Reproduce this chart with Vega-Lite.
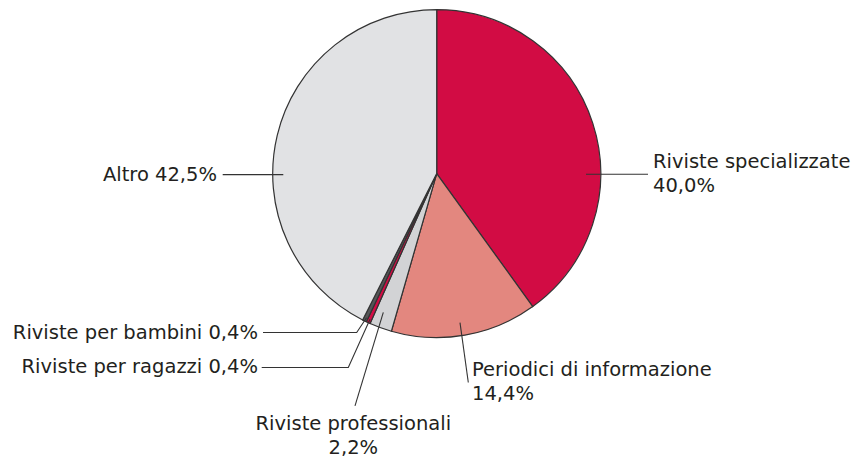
{
  "$schema": "https://vega.github.io/schema/vega-lite/v6.json",
  "width": 854,
  "height": 458,
  "autosize": {"type": "fit", "contains": "padding"},
  "padding": 0,
  "background": "white",
  "config": {"view": {"stroke": null}},
  "datasets": {
    "slices": [
      {"category": "Riviste specializzate", "share": 40.0, "rank": 1},
      {"category": "Periodici di informazione", "share": 14.4, "rank": 2},
      {"category": "Riviste professionali", "share": 2.2, "rank": 3},
      {"category": "Riviste per ragazzi", "share": 0.4, "rank": 4},
      {"category": "Riviste per bambini", "share": 0.4, "rank": 5},
      {"category": "Altro", "share": 42.5, "rank": 6}
    ],
    "leaders": [
      {"label": "spec", "pt": 1, "x": 0.9104, "y": -0.004},
      {"label": "spec", "pt": 2, "x": 1.2884, "y": -0.004},
      {"label": "per", "pt": 1, "x": 0.1421, "y": -0.9104},
      {"label": "per", "pt": 2, "x": 0.1927, "y": -1.2762},
      {"label": "prof", "pt": 1, "x": -0.3256, "y": -0.8476},
      {"label": "prof", "pt": 2, "x": -0.4982, "y": -1.4189},
      {"label": "bamb", "pt": 1, "x": -1.0591, "y": -0.9713},
      {"label": "bamb", "pt": 2, "x": -0.4878, "y": -0.9713},
      {"label": "bamb", "pt": 3, "x": -0.428, "y": -0.881},
      {"label": "ragaz", "pt": 1, "x": -1.0671, "y": -1.1848},
      {"label": "ragaz", "pt": 2, "x": -0.539, "y": -1.1848},
      {"label": "ragaz", "pt": 3, "x": -0.4067, "y": -0.8902},
      {"label": "altro", "pt": 1, "x": -1.3049, "y": -0.0061},
      {"label": "altro", "pt": 2, "x": -0.9354, "y": -0.0061}
    ],
    "labels": [
      {"text": "Riviste specializzate", "x": 1.3189, "y": 0.0366, "align": "left"},
      {"text": "40,0%", "x": 1.3189, "y": -0.1098, "align": "left"},
      {"text": "Periodici di informazione", "x": 0.2152, "y": -1.2378, "align": "left"},
      {"text": "14,4%", "x": 0.2152, "y": -1.3841, "align": "left"},
      {"text": "Riviste professionali", "x": -0.5085, "y": -1.5671, "align": "center"},
      {"text": "2,2%", "x": -0.5085, "y": -1.7134, "align": "center"},
      {"text": "Altro 42,5%", "x": -1.3396, "y": -0.0427, "align": "right"},
      {"text": "Riviste per bambini 0,4%", "x": -1.0896, "y": -1.0122, "align": "right"},
      {"text": "Riviste per ragazzi 0,4%", "x": -1.0896, "y": -1.2195, "align": "right"}
    ]
  },
  "layer": [
    {
      "data": {"name": "slices"},
      "mark": {"type": "arc", "outerRadius": 164, "stroke": "#333333", "strokeWidth": 1.2},
      "encoding": {
        "theta": {"field": "share", "type": "quantitative", "stack": true},
        "order": {"field": "rank", "type": "quantitative"},
        "color": {
          "field": "category",
          "type": "nominal",
          "scale": {
            "domain": ["Riviste specializzate", "Periodici di informazione", "Riviste professionali", "Riviste per ragazzi", "Riviste per bambini", "Altro"],
            "range": ["#d20c44", "#e3877f", "#d2d3d5", "#d20c44", "#555557", "#e1e2e4"]
          },
          "legend": null
        },
        "x": {"datum": 0, "type": "quantitative", "scale": {"domain": [-2.6628, 2.5445], "nice": false, "zero": false}, "axis": null},
        "y": {"datum": 0, "type": "quantitative", "scale": {"domain": [-1.7317, 1.061], "nice": false, "zero": false}, "axis": null}
      }
    },
    {
      "data": {"name": "leaders"},
      "mark": {"type": "line", "stroke": "#333333", "strokeWidth": 1.1},
      "encoding": {
        "x": {"field": "x", "type": "quantitative", "scale": {"domain": [-2.6628, 2.5445], "nice": false, "zero": false}, "axis": null},
        "y": {"field": "y", "type": "quantitative", "scale": {"domain": [-1.7317, 1.061], "nice": false, "zero": false}, "axis": null},
        "detail": {"field": "label", "type": "nominal"},
        "order": {"field": "pt", "type": "quantitative"}
      }
    },
    {
      "data": {"name": "labels"},
      "transform": [{"filter": "datum.align == 'left'"}],
      "mark": {"type": "text", "align": "left", "baseline": "alphabetic", "font": "DejaVu Sans", "fontSize": 19.5, "fill": "#231f20"},
      "encoding": {
        "x": {"field": "x", "type": "quantitative", "scale": {"domain": [-2.6628, 2.5445], "nice": false, "zero": false}, "axis": null},
        "y": {"field": "y", "type": "quantitative", "scale": {"domain": [-1.7317, 1.061], "nice": false, "zero": false}, "axis": null},
        "text": {"field": "text", "type": "nominal"}
      }
    },
    {
      "data": {"name": "labels"},
      "transform": [{"filter": "datum.align == 'right'"}],
      "mark": {"type": "text", "align": "right", "baseline": "alphabetic", "font": "DejaVu Sans", "fontSize": 19.5, "fill": "#231f20"},
      "encoding": {
        "x": {"field": "x", "type": "quantitative", "scale": {"domain": [-2.6628, 2.5445], "nice": false, "zero": false}, "axis": null},
        "y": {"field": "y", "type": "quantitative", "scale": {"domain": [-1.7317, 1.061], "nice": false, "zero": false}, "axis": null},
        "text": {"field": "text", "type": "nominal"}
      }
    },
    {
      "data": {"name": "labels"},
      "transform": [{"filter": "datum.align == 'center'"}],
      "mark": {"type": "text", "align": "center", "baseline": "alphabetic", "font": "DejaVu Sans", "fontSize": 19.5, "fill": "#231f20"},
      "encoding": {
        "x": {"field": "x", "type": "quantitative", "scale": {"domain": [-2.6628, 2.5445], "nice": false, "zero": false}, "axis": null},
        "y": {"field": "y", "type": "quantitative", "scale": {"domain": [-1.7317, 1.061], "nice": false, "zero": false}, "axis": null},
        "text": {"field": "text", "type": "nominal"}
      }
    }
  ]
}
